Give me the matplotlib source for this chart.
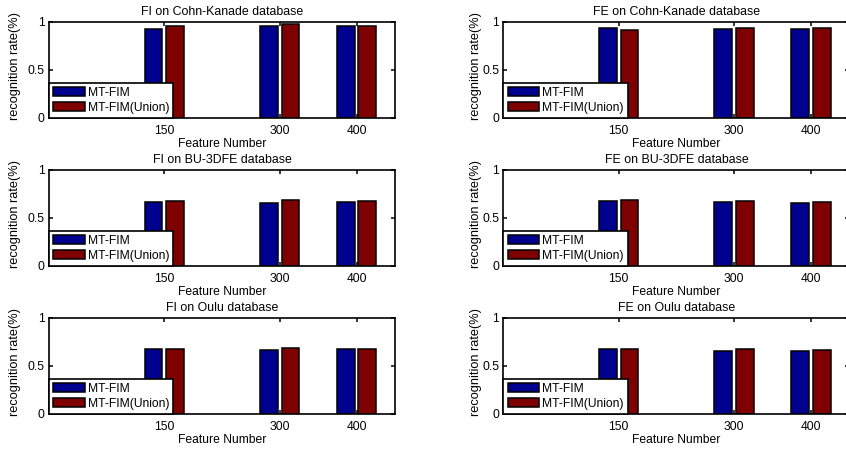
import matplotlib
matplotlib.use("Agg")
import matplotlib.pyplot as plt
import numpy as np

plt.rcParams.update({"font.family": ["Liberation Sans", "DejaVu Sans"],
                     "font.size": 8.7})

features = [150, 300, 400]
labels = ["MT-FIM", "MT-FIM(Union)"]

titles = ["FI on Cohn-Kanade database", "FE on Cohn-Kanade database",
          "FI on BU-3DFE database", "FE on BU-3DFE database",
          "FI on Oulu database", "FE on Oulu database"]

fi_ck_mt = [0.93, 0.96, 0.958]
fi_ck_un = [0.96, 0.979, 0.96]
fe_ck_mt = [0.942, 0.931, 0.931]
fe_ck_un = [0.921, 0.942, 0.938]
fi_bu_mt = [0.670, 0.660, 0.665]
fi_bu_un = [0.677, 0.690, 0.675]
fe_bu_mt = [0.672, 0.662, 0.659]
fe_bu_un = [0.683, 0.672, 0.669]
fi_ou_mt = [0.672, 0.666, 0.672]
fi_ou_un = [0.679, 0.690, 0.679]
fe_ou_mt = [0.674, 0.660, 0.660]
fe_ou_un = [0.680, 0.674, 0.670]

series = [(fi_ck_mt, fi_ck_un), (fe_ck_mt, fe_ck_un),
          (fi_bu_mt, fi_bu_un), (fe_bu_mt, fe_bu_un),
          (fi_ou_mt, fi_ou_un), (fe_ou_mt, fe_ou_un)]

BLUE, RED = "#00008f", "#7f0000"
W, H = 846, 451
fig = plt.figure(figsize=(W / 100, H / 100), dpi=100)

lefts = [49, 503.4]
ylab_x = [-0.081, -0.061]
tops = [22, 170, 318]
aw, ah = 346, 96

x = np.array(features, dtype=float)
for i, (mt, un) in enumerate(series):
    r, c = divmod(i, 2)
    ax = fig.add_axes([lefts[c] / W, (H - tops[r] - ah) / H, aw / W, ah / H])
    ax.bar(x - 14, mt, width=23, color=BLUE, edgecolor="black", lw=1.1, label=labels[0])
    ax.bar(x + 14, un, width=23, color=RED, edgecolor="black", lw=1.1, label=labels[1])
    ax.set_xlim(0, 450)
    ax.set_ylim(0, 1)
    ax.set_xticks(features)
    ax.set_yticks([0, 0.5, 1])
    ax.set_yticklabels(["0", "0.5", "1"])
    ax.tick_params(direction="in", length=3, width=1.1, top=True, right=True, pad=3)
    ax.tick_params(axis="x", pad=5)
    for s in ax.spines.values():
        s.set_linewidth(1.2)
    ax.set_title(titles[i], pad=5, fontsize=8.9)
    ax.set_xlabel("Feature Number", labelpad=1)
    ax.set_ylabel("recognition rate(%)", fontsize=9.2)
    ax.yaxis.set_label_coords(ylab_x[c], 0.54)
    leg = ax.legend(loc="lower left", borderaxespad=0, fancybox=False, framealpha=1,
                    edgecolor="black", handlelength=2.6, handleheight=0.85,
                    handletextpad=0.25, labelspacing=0.25, borderpad=0.35)
    leg.get_frame().set_linewidth(1.2)

fig.savefig("out.png", dpi=100)
